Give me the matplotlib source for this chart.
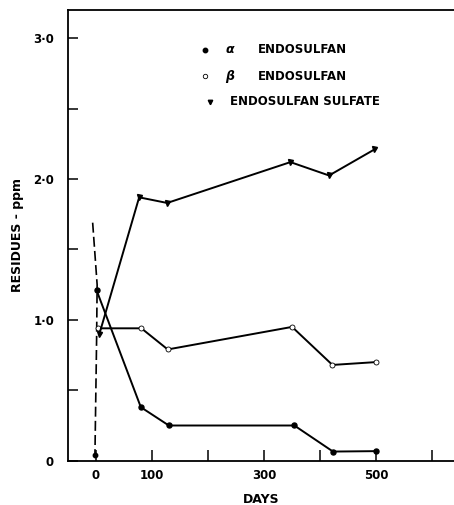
import numpy as np
import matplotlib
matplotlib.use("Agg")
import matplotlib.pyplot as plt

# values
alpha_days = [1, 80, 130, 354, 423, 500]
alpha_ppm = [1.21, 0.38, 0.25, 0.25, 0.065, 0.068]

beta_days = [4, 81, 128, 350, 422, 499]
beta_ppm = [0.94, 0.94, 0.79, 0.95, 0.68, 0.70]

sulfate_days = [6, 77, 127, 347, 416, 497]
sulfate_ppm = [0.90, 1.87, 1.83, 2.12, 2.025, 2.21]

# dashed trace near day 0
dash_days = [-6, 2, 1, -2]
dash_ppm = [1.69, 1.25, 0.85, 0.02]

xticks = [0, 100, 200, 300, 400, 500, 600]
xtick_labels = ["0", "100", "", "300", "", "500", ""]
yticks = [0, 1.0, 2.0, 3.0]
ytick_labels = ["0", "1·0", "2·0", "3·0"]
yminor = [0.5, 1.5, 2.5]

fig = plt.figure(figsize=(4.54, 5.05), dpi=100)
ax = fig.add_axes([0.1498, 0.0877, 0.8502, 0.8925])

lw = 1.4
ax.plot(dash_days, dash_ppm, color="black", lw=1.2, ls=(0, (6, 2.5)))
ax.plot(dash_days[-1:], [0.04], marker="o", ms=3.2, color="black", ls="none")

ax.plot(alpha_days, alpha_ppm, color="black", lw=lw, marker="o", ms=3.6,
        mfc="black", mec="black")
ax.plot(beta_days, beta_ppm, color="black", lw=lw, marker="o", ms=3.6,
        mfc="white", mec="black", mew=0.6)
ax.plot(sulfate_days, sulfate_ppm, color="black", lw=lw, marker="v", ms=3.6,
        mfc="black", mec="black")

ax.set_xlim(-50, 639)
ax.set_ylim(0, 3.2)

ax.spines["right"].set_visible(False)
for s in ["left", "bottom", "top"]:
    ax.spines[s].set_linewidth(1.3)

ax.set_xticks(xticks)
ax.set_xticklabels(xtick_labels)
ax.set_yticks(yticks)
ax.set_yticklabels(ytick_labels)
ax.set_yticks(yminor, minor=True)
ax.tick_params(axis="x", direction="in", length=8, width=1.1, pad=6,
               labelsize=8.5)
ax.tick_params(axis="y", which="both", direction="in", length=7, width=1.1,
               pad=10, labelsize=8.5)
for t in ax.get_xticklabels() + ax.get_yticklabels():
    t.set_fontweight("bold")

ax.set_xlabel("DAYS", fontsize=9, fontweight="bold", labelpad=8)
ax.set_ylabel("RESIDUES - ppm", fontsize=9, fontweight="bold", labelpad=7)

# legend drawn by hand, like the original key
ax.plot([194], [2.916], marker="o", ms=3.2, color="black", clip_on=False)
ax.text(239, 2.916, "α", fontsize=9, fontstyle="italic", va="center",
        ha="center", fontweight="bold")
ax.text(289, 2.916, "ENDOSULFAN", fontsize=8.5, va="center", ha="left",
        fontweight="bold")
ax.plot([194], [2.731], marker="o", ms=3.2, mfc="white", mec="black",
        mew=0.6, clip_on=False)
ax.text(239, 2.731, "β", fontsize=9, fontstyle="italic", va="center",
        ha="center", fontweight="bold")
ax.text(289, 2.731, "ENDOSULFAN", fontsize=8.5, va="center", ha="left",
        fontweight="bold")
ax.plot([203], [2.547], marker="v", ms=3.2, color="black", clip_on=False)
ax.text(239, 2.547, "ENDOSULFAN SULFATE", fontsize=8.5, va="center",
        ha="left", fontweight="bold")

fig.savefig("out.png", dpi=100)
